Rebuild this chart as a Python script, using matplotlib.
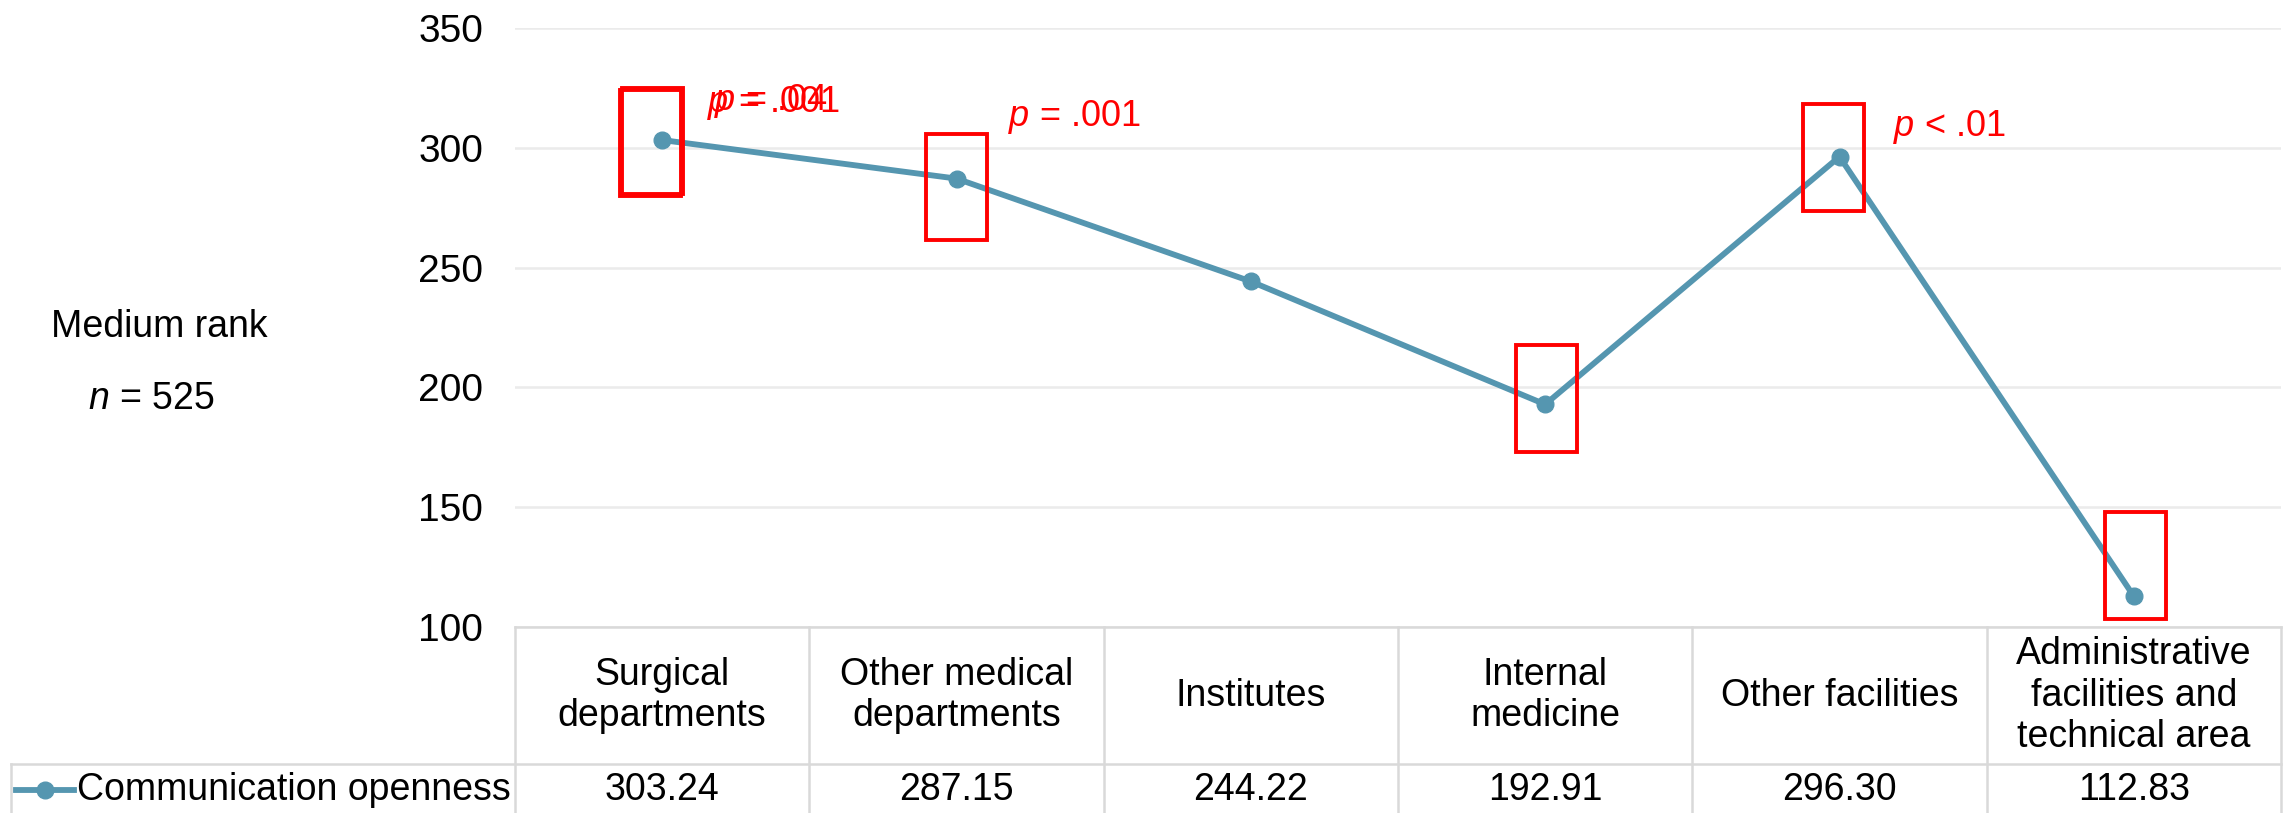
import matplotlib
matplotlib.use("Agg")
import matplotlib.pyplot as plt
from matplotlib.patches import Rectangle
from matplotlib.lines import Line2D

plt.rcParams['font.family'] = ['Liberation Sans', 'DejaVu Sans']
plt.rcParams['mathtext.fontset'] = 'custom'
plt.rcParams['mathtext.rm'] = 'Liberation Sans'
plt.rcParams['mathtext.it'] = 'Liberation Sans:italic'

# ---- data ----
categories = ["Surgical\ndepartments", "Other medical\ndepartments", "Institutes",
              "Internal\nmedicine", "Other facilities",
              "Administrative\nfacilities and\ntechnical area"]
values = [303.24, 287.15, 244.22, 192.91, 296.30, 112.83]
value_labels = ["303.24", "287.15", "244.22", "192.91", "296.30", "112.83"]
series_name = "Communication openness"
y_ticks = [100, 150, 200, 250, 300, 350]
highlight_idx = [0, 1, 3, 4, 5]
p_texts = ["$p$ = .001", "$p$ = .04", "$p$ = .001", "$p$ < .01"]

LINE_C = "#5596B0"
RED = "#FF0000"
GRID_C = "#EBEBEB"
TAB_C = "#D9D9D9"
FS = 27

W, H = 2290, 813
fig = plt.figure(figsize=(W / 100, H / 100), dpi=100)

ax = fig.add_axes([515 / W, 186 / H, 1766 / W, 599 / H])
x = list(range(len(categories)))
ax.plot(x, values, color=LINE_C, lw=4.2, marker='o', ms=12, zorder=3, clip_on=False)
ax.set_xlim(-0.5, len(categories) - 0.5)
ax.set_ylim(y_ticks[0], y_ticks[-1])
ax.set_yticks(y_ticks)
ax.set_yticklabels([str(t) for t in y_ticks], fontsize=FS + 1)
ax.tick_params(axis='y', length=0, pad=23)
ax.set_xticks([])
for s in ax.spines.values():
    s.set_visible(False)
ax.grid(axis='y', color=GRID_C, lw=1.8, zorder=0)
ax.set_axisbelow(True)

# red highlight boxes (centred on the points, sizes in category / value units)
box_w = 0.207
box_h = 44.5
box_dx = {0: -0.034, 1: 0.0, 3: 0.003, 4: -0.02, 5: 0.005}
box_dy = {0: -0.4, 1: -3.5, 3: 2.5, 4: -0.3, 5: 12.9}
for i in highlight_idx:
    cx = x[i] + box_dx[i]
    cy = values[i] + box_dy[i]
    ax.add_patch(Rectangle((cx - box_w / 2, cy - box_h / 2), box_w, box_h,
                           fill=False, ec=RED, lw=2.8, zorder=4, clip_on=False))
# doubled first box
ax.add_patch(Rectangle((x[0] + box_dx[0] - box_w / 2 - 0.006, values[0] + box_dy[0] - box_h / 2 - 0.8),
                       box_w, box_h, fill=False, ec=RED, lw=2.8, zorder=4, clip_on=False))

# p-value annotations
ax.text(0.152, 318.8, p_texts[0], color=RED, fontsize=26, va='center', ha='left')
ax.text(0.176, 319.6, p_texts[1], color=RED, fontsize=26, va='center', ha='left')
ax.text(1.175, 313.0, p_texts[2], color=RED, fontsize=26, va='center', ha='left')
ax.text(4.182, 308.8, p_texts[3], color=RED, fontsize=26, va='center', ha='left')

# left-side labels
fig.text(51 / W, 1 - 327 / H, "Medium rank", fontsize=FS, ha='left', va='center')
fig.text(88 / W, 1 - 399 / H, "$n$ = 525", fontsize=FS, ha='left', va='center')

# ---- data table below ----
tax = fig.add_axes([515 / W, 0, 1766 / W, 186 / H])
tax.set_xlim(-0.5, len(categories) - 0.5)
tax.set_ylim(0, 186)
tax.axis('off')
top, sep = 186, 49
n = len(categories)
tax.plot([-0.5, n - 0.5], [top, top], color=TAB_C, lw=1.8, clip_on=False)
for i in range(n + 1):
    tax.plot([i - 0.5, i - 0.5], [top, -5], color=TAB_C, lw=1.8, clip_on=False)
leg_left = (11 - 515) / 294.33 - 0.5
tax.plot([leg_left, n - 0.5], [sep, sep], color=TAB_C, lw=1.8, clip_on=False)
tax.plot([leg_left, leg_left], [sep, -5], color=TAB_C, lw=1.8, clip_on=False)
for i, (c, v) in enumerate(zip(categories, value_labels)):
    tax.text(i, (top + sep) / 2, c, fontsize=FS, ha='center', va='center', linespacing=1.2)
    tax.text(i, 23, v, fontsize=FS, ha='center', va='center')

# legend key inside table
lx0 = (16 - 515) / 294.33 - 0.5
lx1 = (74 - 515) / 294.33 - 0.5
tax.add_line(Line2D([lx0, lx1], [23, 23], color=LINE_C, lw=4.2, clip_on=False))
tax.add_line(Line2D([(lx0 + lx1) / 2], [23], color=LINE_C, marker='o', ms=12, lw=0, clip_on=False))
tax.text((77 - 515) / 294.33 - 0.5, 23, series_name, fontsize=FS, ha='left', va='center')

fig.savefig("out.png", dpi=100)
